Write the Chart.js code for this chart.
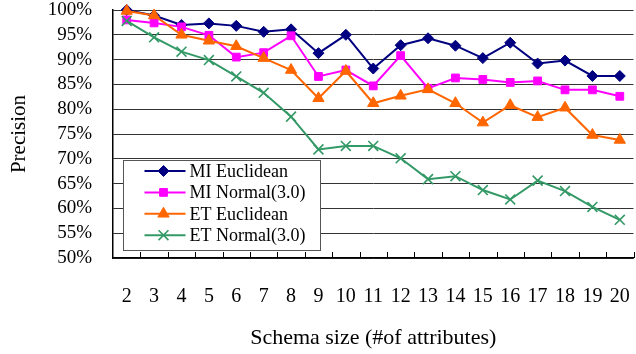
<!DOCTYPE html>
<html>
<head>
<meta charset="utf-8">
<script src="https://cdn.jsdelivr.net/npm/chart.js@4.4.1/dist/chart.umd.min.js"></script>
<style>
  html, body { margin: 0; padding: 0; background: #fff; }
  #wrap { width: 636px; height: 354px; position: relative; }
</style>
</head>
<body>
<div id="wrap"><canvas id="c" width="636" height="354"></canvas></div>
<script>
const categories = ['2','3','4','5','6','7','8','9','10','11','12','13','14','15','16','17','18','19','20'];
const miEuclidean = [100, 98.9, 97.0, 97.3, 96.8, 95.6, 96.1, 91.3, 95.0, 88.2, 92.9, 94.3, 92.8, 90.3, 93.4, 89.2, 89.8, 86.7, 86.7];
const miNormal    = [98.0, 97.4, 96.6, 94.9, 90.5, 91.4, 94.8, 86.6, 87.9, 84.7, 90.8, 84.2, 86.3, 86.0, 85.4, 85.7, 83.9, 83.9, 82.6];
const etEuclidean = [99.8, 98.9, 95.0, 93.8, 92.7, 90.3, 87.9, 82.2, 87.7, 81.2, 82.7, 84.0, 81.2, 77.3, 80.8, 78.4, 80.3, 74.8, 73.8];
const etNormal    = [97.8, 94.5, 91.6, 89.9, 86.6, 83.3, 78.5, 71.9, 72.6, 72.6, 70.1, 65.9, 66.5, 63.7, 61.8, 65.6, 63.5, 60.3, 57.7];
const seriesNames = ['MI Euclidean', 'MI Normal(3.0)', 'ET Euclidean', 'ET Normal(3.0)'];
const yTicks = [50, 55, 60, 65, 70, 75, 80, 85, 90, 95, 100];

const FONT = "'Liberation Serif', 'Times New Roman', serif";
const colors = ['#000080', '#FF00FF', '#FF6600', '#339966'];
const styles = ['rectRot', 'rect', 'triangle', 'crossRot'];
const radii = [5.5, 5.5, 6.5, 7];

function ds(i, data, order) {
  return {
    label: seriesNames[i],
    data: data,
    borderColor: colors[i],
    backgroundColor: colors[i],
    borderWidth: 2,
    pointStyle: styles[i],
    pointRadius: radii[i],
    pointBorderWidth: i === 3 ? 1.6 : 1,
    pointBackgroundColor: colors[i],
    pointBorderColor: colors[i],
    tension: 0,
    clip: false,
    order: order
  };
}

const fixRight = {
  id: 'fixRight',
  afterLayout(chart) {
    const x = chart.scales.x;
    const target = chart.width - 2.5;
    chart.chartArea.right = target;
    chart.chartArea.width = target - chart.chartArea.left;
    x.right = target;
    x.width = target - x.left;
    x.configure();
  }
};

const innerTicks = {
  id: 'innerTicks',
  afterDatasetsDraw(chart) {
    const ctx = chart.ctx;
    const x = chart.scales.x;
    const area = chart.chartArea;
    const n = categories.length;
    const step = (area.right - area.left) / n;
    ctx.save();
    ctx.strokeStyle = '#000';
    ctx.lineWidth = 1;
    for (let i = 1; i <= n; i++) {
      const px = Math.round(x.getPixelForValue(i - 1) + step / 2) + 0.5;
      ctx.beginPath();
      ctx.moveTo(px, area.bottom);
      ctx.lineTo(px, area.bottom - 6);
      ctx.stroke();
    }
    ctx.restore();
  }
};

const boxLegend = {
  id: 'boxLegend',
  afterDatasetsDraw(chart) {
    const ctx = chart.ctx;
    const area = chart.chartArea;
    const bx = Math.round(area.left + 10) + 0.5, by = Math.round(area.top + 150) + 0.5, bw = 197, bh = 90;
    ctx.save();
    ctx.fillStyle = '#fff';
    ctx.fillRect(bx, by, bw, bh);
    ctx.strokeStyle = '#555';
    ctx.lineWidth = 1;
    ctx.strokeRect(bx, by, bw, bh);
    ctx.font = '18px ' + FONT;
    ctx.textBaseline = 'middle';
    ctx.textAlign = 'left';
    chart.data.datasets.forEach((d, i) => {
      const ry = by + 10.5 + i * 21.4;
      ctx.strokeStyle = d.borderColor;
      ctx.lineWidth = 2;
      ctx.beginPath();
      ctx.moveTo(bx + 21, ry);
      ctx.lineTo(bx + 62, ry);
      ctx.stroke();
      ctx.fillStyle = d.borderColor;
      ctx.strokeStyle = d.borderColor;
      ctx.lineWidth = d.pointBorderWidth;
      Chart.helpers.drawPoint(ctx, {pointStyle: d.pointStyle, rotation: 0, radius: d.pointRadius, borderWidth: d.pointBorderWidth}, bx + 40, ry);
      ctx.fillStyle = '#000';
      ctx.fillText(d.label, bx + 66, ry + 1);
    });
    ctx.restore();
  }
};

new Chart(document.getElementById('c'), {
  type: 'line',
  data: {
    labels: categories,
    datasets: [
      ds(0, miEuclidean, 4),
      ds(1, miNormal, 3),
      ds(2, etEuclidean, 2),
      ds(3, etNormal, 1)
    ]
  },
  options: {
    responsive: false,
    animation: false,
    devicePixelRatio: 1,
    layout: { padding: { top: 10, right: 3, left: 0, bottom: 0 } },
    plugins: { legend: { display: false }, tooltip: { enabled: false } },
    scales: {
      x: {
        type: 'category',
        offset: true,
        grid: { display: false, offset: true },
        border: { display: true, color: '#000', width: 1.5 },
        ticks: { color: '#000', font: { family: FONT, size: 20 }, padding: 19, maxRotation: 0, autoSkip: false },
        title: { display: true, text: 'Schema size (#of attributes)', color: '#000', font: { family: FONT, size: 22 }, padding: { top: 0, bottom: 3 } },
        afterFit(s) { s.height = 96; }
      },
      y: {
        min: 50, max: 100,
        afterBuildTicks(s) { s.ticks = yTicks.map(v => ({ value: v })); },
        grid: { color: '#333', lineWidth: 1, drawTicks: true, tickLength: 21, tickColor: 'rgba(0,0,0,0)' },
        border: { display: true, color: '#000', width: 1.5 },
        ticks: { color: '#000', font: { family: FONT, size: 19, lineHeight: 1.0 }, padding: 0, autoSkip: false, callback: v => v + '%' },
        title: { display: true, text: 'Precision', color: '#000', font: { family: FONT, size: 21 }, padding: { top: 7, bottom: 0 } },
        afterFit(s) { s.width = 113; }
      }
    }
  },
  plugins: [fixRight, innerTicks, boxLegend]
});
</script>
</body>
</html>
